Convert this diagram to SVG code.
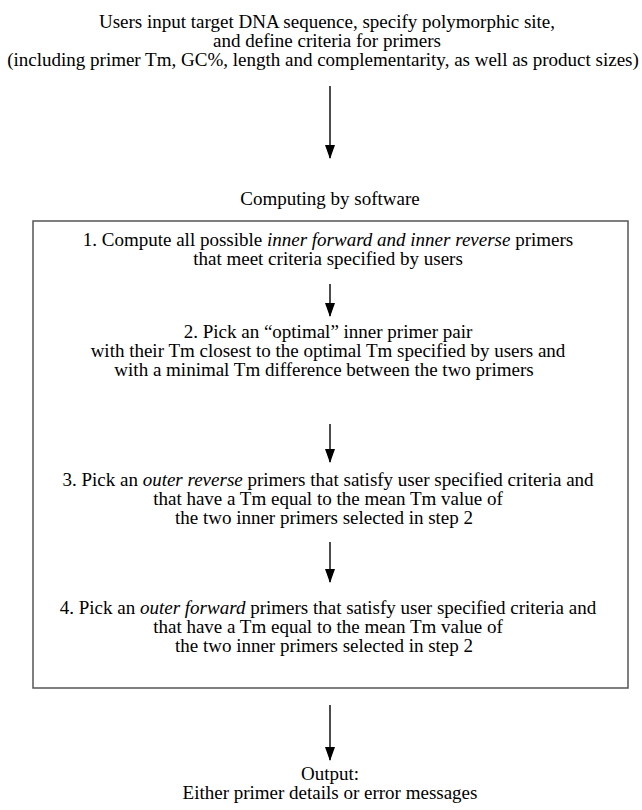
<svg xmlns="http://www.w3.org/2000/svg" width="642" height="810" viewBox="0 0 642 810">
<defs>
<style>
text{font-family:"Liberation Serif","Times New Roman",serif;font-size:19px;fill:#000;text-anchor:middle}
.i{font-style:italic}
.c{stroke:#000;stroke-width:1.4;fill:none}
</style>
<marker id="ah" viewBox="0 0 14 10" refX="13" refY="5" markerWidth="14" markerHeight="10" markerUnits="userSpaceOnUse" orient="auto">
<path d="M0,0 L14,5 L0,10 Z" fill="#000"/>
</marker>
</defs>
<rect width="642" height="810" fill="#fff"/>
<g id="input">
<text x="327" y="28">Users input target DNA sequence, specify polymorphic site,</text>
<text x="327" y="47">and define criteria for primers</text>
<text x="323" y="66">(including primer Tm, GC%, length and complementarity, as well as product sizes)</text>
</g>
<g id="computing">
<text x="330" y="205">Computing by software</text>
</g>
<g id="box">
<rect x="33" y="221" width="595" height="467" fill="none" stroke="#555" stroke-width="1.5"/>
</g>
<g id="step1">
<text x="328" y="246">1. Compute all possible <tspan class="i">inner forward and inner reverse</tspan> primers</text>
<text x="328" y="265">that meet criteria specified by users</text>
</g>
<g id="step2">
<text x="328" y="338">2. Pick an “optimal” inner primer pair</text>
<text x="328" y="357">with their Tm closest to the optimal Tm specified by users and</text>
<text x="324" y="376">with a minimal Tm difference between the two primers</text>
</g>
<g id="step3">
<text x="328" y="486">3. Pick an <tspan class="i">outer reverse</tspan> primers that satisfy user specified criteria and</text>
<text x="328" y="505">that have a Tm equal to the mean Tm value of</text>
<text x="324" y="524">the two inner primers selected in step 2</text>
</g>
<g id="step4">
<text x="328" y="614">4. Pick an <tspan class="i">outer forward</tspan> primers that satisfy user specified criteria and</text>
<text x="328" y="633">that have a Tm equal to the mean Tm value of</text>
<text x="324" y="652">the two inner primers selected in step 2</text>
</g>
<g id="output">
<text x="330" y="780">Output:</text>
<text x="330" y="799">Either primer details or error messages</text>
</g>
<g id="connectors">
<line class="c" x1="330" y1="86" x2="330" y2="158" marker-end="url(#ah)"/>
<line class="c" x1="330" y1="284" x2="330" y2="316" marker-end="url(#ah)"/>
<line class="c" x1="330" y1="424" x2="330" y2="462" marker-end="url(#ah)"/>
<line class="c" x1="330" y1="542" x2="330" y2="582" marker-end="url(#ah)"/>
<line class="c" x1="330" y1="705" x2="330" y2="760" marker-end="url(#ah)"/>
</g>
</svg>
